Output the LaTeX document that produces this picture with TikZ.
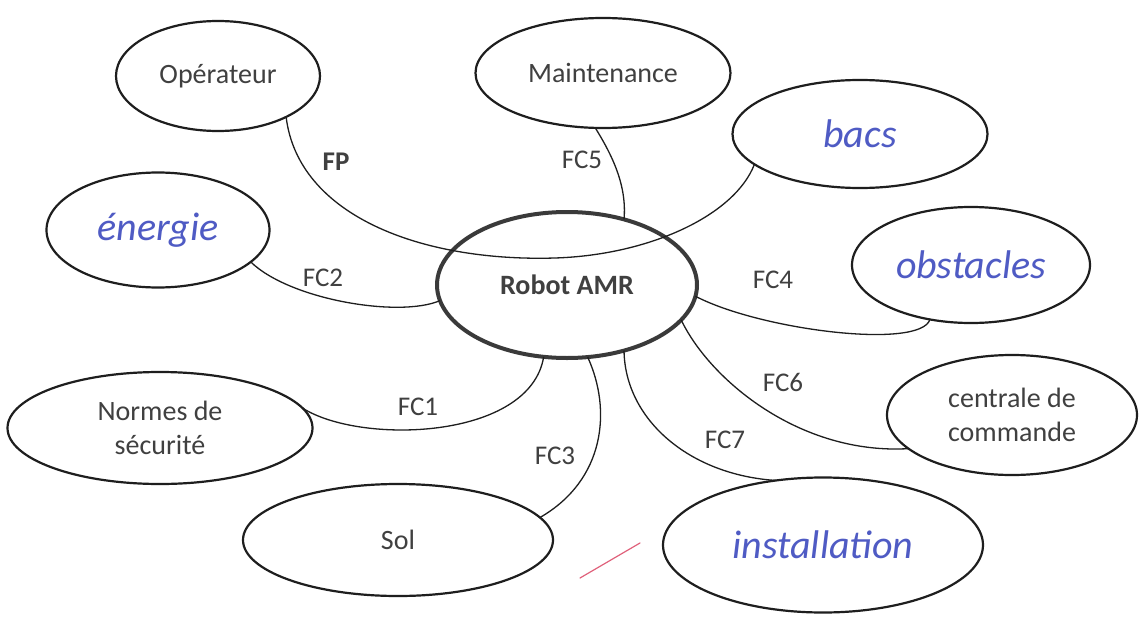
\documentclass[tikz,border=0pt]{standalone}
\usepackage{fontspec}
\setmainfont{Carlito}
\usepackage{tikz}
\usetikzlibrary{shapes.geometric}
\definecolor{pieuvreink}{HTML}{1E1E1E}
\definecolor{pieuvrecore}{HTML}{3A3A3A}
\definecolor{penblue}{HTML}{4F5BC4}
\definecolor{redmark}{HTML}{E0607A}

\begin{document}
\begin{tikzpicture}[
  x=1pt,y=-1pt,
  bulle/.style={ellipse,draw=pieuvreink,line width=2.2pt,inner sep=0pt,outer sep=0pt,align=center,font=\fontsize{28}{34}\selectfont,text=pieuvreink!85},
  centre/.style={bulle,draw=pieuvrecore,line width=4pt,font=\fontsize{28}{34}\selectfont\bfseries},
  stylo/.style={text=penblue,font=\fontsize{40}{44}\selectfont\itshape},
  lien/.style={draw=pieuvreink,line width=1.3pt},
  fc/.style={font=\fontsize{27}{32}\selectfont,text=pieuvreink!85}
]
\useasboundingbox[fill=white] (0,0) rectangle (1143,618);
% elements du milieu exterieur
\node[centre,minimum width=260pt,minimum height=146pt] (rob) at (567,285) {Robot AMR};
\node[bulle,minimum width=204pt,minimum height=110pt] (op) at (218,76) {Opérateur};
\node[bulle,minimum width=255pt,minimum height=110pt] (mai) at (603,73) {Maintenance};
\node[bulle,minimum width=255pt,minimum height=108pt] (bacs) at (860,134) {};
\node[stylo] at (bacs) {bacs};
\node[bulle,minimum width=223pt,minimum height=115pt] (ene) at (158,230) {};
\node[stylo] at (ene) {énergie};
\node[bulle,minimum width=238pt,minimum height=116pt] (obs) at (971,265) {};
\node[stylo] at (obs) {obstacles};
\node[bulle,minimum width=305pt,minimum height=112pt] (nor) at (160,428) {Normes de\\sécurité};
\node[bulle,minimum width=250pt,minimum height=120pt] (cen) at (1012,415) {centrale de\\commande};
\node[bulle,minimum width=310pt,minimum height=112pt] (sol) at (398,540) {Sol};
\node[bulle,minimum width=320pt,minimum height=135pt] (inst) at (823,545) {};
\node[stylo] at (inst) {installation};
% fonctions
\draw[lien] (op.-31) .. controls (298,215) and (420,262) .. (555,258) .. controls (650,255) and (735,215) .. (bacs.-164);
\draw[lien] (mai.-98) .. controls (612,155) and (627,185) .. (rob.49);
\draw[lien] (ene.-19) .. controls (290,300) and (400,318) .. (rob.-173);
\draw[lien] (nor.8) .. controls (360,445) and (530,440) .. (rob.-108);
\draw[lien] (rob.-74) .. controls (612,410) and (605,480) .. (sol.9);
\draw[lien] (rob.-49) .. controls (625,420) and (690,475) .. (inst.126);
\draw[lien] (rob.-17) .. controls (710,380) and (800,455) .. (cen.-162);
\draw[lien] (rob.-5) .. controls (760,330) and (920,350) .. (obs.-127);
\node[fc,font=\fontsize{27}{32}\selectfont\bfseries] (lfp) at (336,162) {FP};
\node[fc] (lfc5) at (582,160) {FC5};
\node[fc] (lfc2) at (323,278) {FC2};
\node[fc] (lfc1) at (418,407) {FC1};
\node[fc] (lfc3) at (555,456) {FC3};
\node[fc] (lfc7) at (725,440) {FC7};
\node[fc] (lfc6) at (783,382) {FC6};
\node[fc] (lfc4) at (773,280) {FC4};
\draw[redmark,line width=1.2pt,line cap=round] (580,578) -- (640,543);
\end{tikzpicture}
\end{document}
